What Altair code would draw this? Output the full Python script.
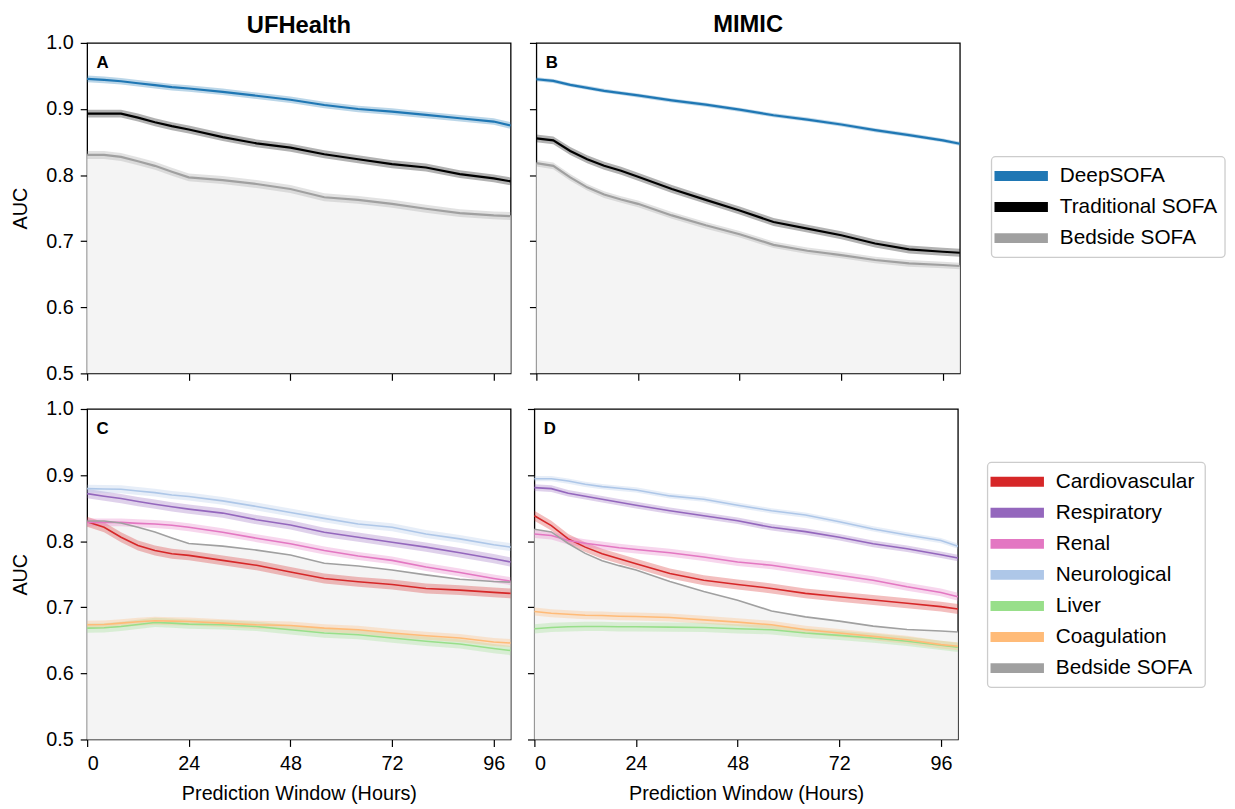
import altair as alt
import pandas as pd

hours = [0, 4, 8, 12, 16, 20, 24, 32, 40, 48, 56, 64, 72, 80, 88, 96, 100]

# Panel A (UFHealth, overall)
uf_deepsofa = [0.9455, 0.944, 0.942, 0.939, 0.936, 0.933, 0.931, 0.926, 0.920, 0.914, 0.906, 0.900, 0.896, 0.891, 0.886, 0.881, 0.875]
uf_traditional = [0.893, 0.893, 0.893, 0.887, 0.880, 0.874, 0.869, 0.8575, 0.848, 0.8415, 0.8315, 0.824, 0.8165, 0.8115, 0.8015, 0.795, 0.7905]
uf_bedside = [0.8305, 0.8305, 0.8275, 0.821, 0.814, 0.805, 0.7965, 0.7925, 0.7865, 0.779, 0.7665, 0.7625, 0.7565, 0.749, 0.7425, 0.739, 0.738]
# Panel B (MIMIC, overall)
mi_deepsofa = [0.945, 0.9425, 0.9365, 0.932, 0.9275, 0.924, 0.9205, 0.913, 0.9065, 0.899, 0.8905, 0.884, 0.8765, 0.868, 0.8605, 0.8525, 0.8475]
mi_traditional = [0.8555, 0.8525, 0.8365, 0.824, 0.814, 0.8065, 0.7975, 0.779, 0.7625, 0.7465, 0.729, 0.719, 0.709, 0.6965, 0.6875, 0.684, 0.6825]
mi_bedside = [0.818, 0.814, 0.7965, 0.7815, 0.7705, 0.763, 0.7565, 0.739, 0.724, 0.7105, 0.6945, 0.6855, 0.679, 0.6715, 0.6665, 0.664, 0.6625]
# Panel C (UFHealth, organ systems)
uf_cardio = [0.8295, 0.821, 0.806, 0.7935, 0.786, 0.781, 0.7785, 0.771, 0.7635, 0.7535, 0.7435, 0.7385, 0.7345, 0.7285, 0.726, 0.7225, 0.721]
uf_resp = [0.872, 0.868, 0.8645, 0.860, 0.856, 0.852, 0.8485, 0.8425, 0.8325, 0.8245, 0.8135, 0.806, 0.7985, 0.791, 0.7825, 0.7735, 0.7685]
uf_renal = [0.8285, 0.8285, 0.8285, 0.827, 0.826, 0.824, 0.821, 0.8135, 0.8045, 0.796, 0.786, 0.7775, 0.771, 0.761, 0.7525, 0.7435, 0.7395]
uf_neuro = [0.8795, 0.879, 0.8785, 0.876, 0.8735, 0.870, 0.8675, 0.861, 0.8525, 0.8435, 0.8345, 0.826, 0.821, 0.811, 0.8035, 0.7945, 0.791]
uf_liver = [0.6685, 0.669, 0.671, 0.674, 0.677, 0.676, 0.6745, 0.6735, 0.671, 0.666, 0.661, 0.6585, 0.6535, 0.6485, 0.6445, 0.6375, 0.6345]
uf_coag = [0.6735, 0.674, 0.676, 0.678, 0.6795, 0.679, 0.6785, 0.676, 0.6735, 0.6725, 0.6685, 0.666, 0.661, 0.657, 0.6535, 0.6475, 0.646]
# Panel D (MIMIC, organ systems)
mi_cardio = [0.8385, 0.8235, 0.8035, 0.791, 0.781, 0.7735, 0.766, 0.751, 0.741, 0.7345, 0.7285, 0.721, 0.716, 0.711, 0.706, 0.701, 0.6975]
mi_resp = [0.881, 0.8795, 0.8725, 0.868, 0.8635, 0.859, 0.8545, 0.846, 0.8385, 0.831, 0.821, 0.8145, 0.806, 0.796, 0.7885, 0.7795, 0.7745]
mi_renal = [0.811, 0.8085, 0.801, 0.797, 0.7935, 0.790, 0.7875, 0.7825, 0.776, 0.7685, 0.7635, 0.756, 0.7485, 0.741, 0.731, 0.7225, 0.716]
mi_neuro = [0.8945, 0.8945, 0.891, 0.886, 0.8825, 0.880, 0.8775, 0.8685, 0.8635, 0.8545, 0.846, 0.8395, 0.8295, 0.8185, 0.8095, 0.801, 0.7925]
mi_liver = [0.6675, 0.6695, 0.6705, 0.671, 0.671, 0.6705, 0.6705, 0.670, 0.6695, 0.6675, 0.666, 0.661, 0.6575, 0.6535, 0.6485, 0.6425, 0.6395]
mi_coag = [0.6935, 0.691, 0.6895, 0.688, 0.6875, 0.6865, 0.686, 0.6845, 0.681, 0.6775, 0.6735, 0.666, 0.661, 0.656, 0.651, 0.6435, 0.641]

top_series = ["DeepSOFA", "Traditional SOFA", "Bedside SOFA"]
top_colors = ["#1f77b4", "#000000", "#a0a0a0"]
bot_series = ["Cardiovascular", "Respiratory", "Renal", "Neurological", "Liver", "Coagulation", "Bedside SOFA"]
bot_colors = ["#d62728", "#9467bd", "#e377c2", "#aec7e8", "#98df8a", "#ffbb78", "#a0a0a0"]

panel_letters = ["A", "B", "C", "D"]
column_titles = ["UFHealth", "MIMIC"]

panels = {
    "A": [("DeepSOFA", uf_deepsofa, 0.005), ("Traditional SOFA", uf_traditional, 0.006), ("Bedside SOFA", uf_bedside, 0.006)],
    "B": [("DeepSOFA", mi_deepsofa, 0.003), ("Traditional SOFA", mi_traditional, 0.006), ("Bedside SOFA", mi_bedside, 0.005)],
    "C": [("Cardiovascular", uf_cardio, 0.0075), ("Respiratory", uf_resp, 0.007), ("Renal", uf_renal, 0.006),
          ("Neurological", uf_neuro, 0.006), ("Liver", uf_liver, 0.007), ("Coagulation", uf_coag, 0.006),
          ("Bedside SOFA", uf_bedside, 0.0)],
    "D": [("Cardiovascular", mi_cardio, 0.0075), ("Respiratory", mi_resp, 0.005), ("Renal", mi_renal, 0.006),
          ("Neurological", mi_neuro, 0.004), ("Liver", mi_liver, 0.007), ("Coagulation", mi_coag, 0.006),
          ("Bedside SOFA", mi_bedside, 0.0)],
}

rows = []
for pid, lst in panels.items():
    for name, vals, hw in lst:
        for h, v in zip(hours, vals):
            rows.append({"panel": pid, "series": name, "hour": h, "auc": v,
                         "lo": v - hw, "hi": v + hw, "band": hw > 0})
df = pd.DataFrame(rows)

letters_df = pd.DataFrame({"panel": panel_letters, "hour": [2.2] * 4, "auc": [0.97] * 4})

FONT = "Liberation Sans"
W, H = 428, 334
LW = 253          # width of the legend column
ROW_STEP = 31.4   # legend row spacing
BOX_X = 15        # legend frame left inside the legend column


def make_panel(pid, series, colors, title=None, toff=0, xlabels=False, ylabels=False, lw=1.0):
    base = alt.Chart(df).transform_filter(alt.datum.panel == pid)
    xax = alt.Axis(values=[0, 24, 48, 72, 96], labels=xlabels, ticks=True, grid=False, domain=False,
                   title="Prediction Window (Hours)" if xlabels else None, tickSize=7,
                   tickColor="black", tickWidth=1.2, labelFontSize=20, titleFontSize=20,
                   labelPadding=7, titleFontWeight="normal", titlePadding=11)
    yax = alt.Axis(values=[0.5, 0.6, 0.7, 0.8, 0.9, 1.0], labels=ylabels, format=".1f", ticks=True,
                   grid=False, domain=False, title="AUC" if ylabels else None, tickSize=7,
                   tickColor="black", tickWidth=1.2, labelFontSize=20, titleFontSize=20,
                   titleFontWeight="normal", labelPadding=7, titlePadding=15)
    sx = alt.Scale(domain=[0, 100], nice=False, zero=False)
    sy = alt.Scale(domain=[0.5, 1.0], nice=False, zero=False)
    x = alt.X("hour:Q", scale=sx, axis=xax)
    y = alt.Y("auc:Q", scale=sy, axis=yax)
    xn = alt.X("hour:Q", scale=sx)
    yn = alt.Y("auc:Q", scale=sy)

    fill = base.transform_filter(alt.datum.series == "Bedside SOFA").mark_area(
        color="#f4f4f4", opacity=1).encode(x=x, y=y, y2=alt.datum(0.5))
    bands = base.transform_filter(alt.datum.band).mark_area(opacity=0.3).encode(
        x=xn, y=alt.Y("lo:Q", scale=sy), y2="hi:Q",
        fill=alt.Fill("series:N", scale=alt.Scale(domain=series, range=colors), legend=None),
        detail="series:N")
    lines = base.mark_line(strokeWidth=lw).encode(
        x=xn, y=yn,
        color=alt.Color("series:N", scale=alt.Scale(domain=series, range=colors), legend=None),
        detail="series:N")
    letter = alt.Chart(letters_df).transform_filter(alt.datum.panel == pid).mark_text(
        align="left", baseline="middle", fontSize=17, fontWeight="bold", font=FONT, color="black"
    ).encode(x=xn, y=yn, text="panel:N")
    ch = alt.layer(fill, bands, lines, letter).properties(width=W, height=H)
    if title:
        ch = ch.properties(title=alt.TitleParams(title, fontSize=24, fontWeight="bold", font=FONT,
                                                 offset=toff, anchor="middle", color="black"))
    return ch


def make_legend(series, colors, box_top, box_w):
    n = len(series)
    ldf = pd.DataFrame({"series": series, "idx": list(range(n))})
    box_h = 39 + (n - 1) * ROW_STEP
    box = pd.DataFrame({"x0": [BOX_X], "x1": [BOX_X + box_w], "y0": [box_top], "y1": [box_top + box_h]})
    lx = alt.Scale(domain=[0, LW], nice=False, zero=False)
    ly = alt.Scale(domain=[0, H], nice=False, zero=False, reverse=True)
    frame = alt.Chart(box).mark_rect(fill="white", stroke="#cccccc", strokeWidth=1.3, cornerRadius=4).encode(
        x=alt.X("x0:Q", scale=lx, axis=None), x2="x1:Q",
        y=alt.Y("y0:Q", scale=ly, axis=None), y2="y1:Q")
    ent = alt.Chart(ldf).transform_calculate(
        ypos=f"{box_top + 19.5} + datum.idx * {ROW_STEP}",
        sx0=f"{BOX_X + 3}", sx1=f"{BOX_X + 57}", tx=f"{BOX_X + 69}")
    sw = ent.mark_rule(strokeWidth=10).encode(
        x=alt.X("sx0:Q", scale=lx, axis=None), x2="sx1:Q",
        y=alt.Y("ypos:Q", scale=ly, axis=None),
        color=alt.Color("series:N", scale=alt.Scale(domain=series, range=colors), legend=None))
    tx = ent.mark_text(align="left", baseline="middle", fontSize=21, font=FONT, color="black").encode(
        x=alt.X("tx:Q", scale=lx, axis=None), y=alt.Y("ypos:Q", scale=ly, axis=None), text="series:N")
    return alt.layer(frame, sw, tx).properties(
        width=LW, height=H, view=alt.ViewBackground(stroke="transparent", strokeWidth=0))


pA = make_panel("A", top_series, top_colors, title=column_titles[0], toff=-5, ylabels=True, lw=2.2)
pB = make_panel("B", top_series, top_colors, title=column_titles[1], toff=5, lw=2.2)
pC = make_panel("C", bot_series, bot_colors, xlabels=True, ylabels=True, lw=1.6)
pD = make_panel("D", bot_series, bot_colors, xlabels=True, lw=1.6)
lT = make_legend(top_series, top_colors, 115, 236)
lB = make_legend(bot_series, bot_colors, 54, 220)

top = alt.hconcat(pA, pB, lT, spacing=11).resolve_scale(color="shared", fill="shared")
bot = alt.hconcat(pC, pD, lB, spacing=11).resolve_scale(color="shared", fill="shared")

chart = alt.vconcat(top, bot, spacing=14).resolve_scale(color="independent", fill="independent").properties(
    padding={"left": 2, "top": 0, "right": 0, "bottom": 0}
).configure(
    font=FONT,
    view=alt.ViewConfig(stroke="black", strokeWidth=1.3),
    axis=alt.AxisConfig(labelFont=FONT, titleFont=FONT, labelColor="black", titleColor="black"),
)

chart.save("out.html", embed_options={"renderer": "svg", "actions": False})
